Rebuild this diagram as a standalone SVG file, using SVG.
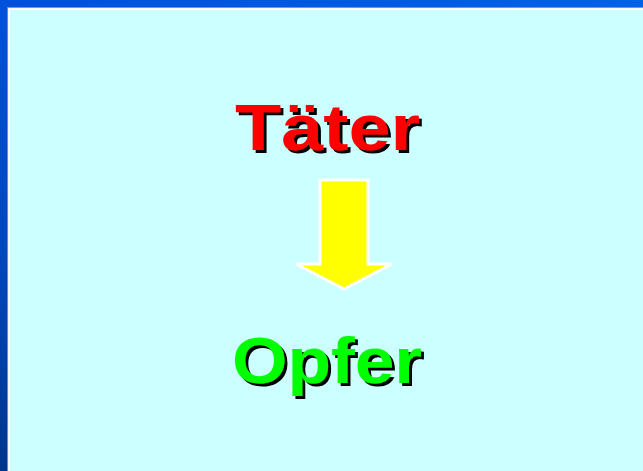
<svg xmlns="http://www.w3.org/2000/svg" width="643" height="471" viewBox="0 0 643 471">
  <defs>
    <linearGradient id="leftBlue" x1="0" y1="0" x2="0" y2="1">
      <stop offset="0" stop-color="#0052DC"/>
      <stop offset="0.6" stop-color="#0046B8"/>
      <stop offset="1" stop-color="#00358A"/>
    </linearGradient>
    <linearGradient id="topBlue" x1="0" y1="0" x2="1" y2="0">
      <stop offset="0" stop-color="#0050DC"/>
      <stop offset="1" stop-color="#0062E6"/>
    </linearGradient>
    <filter id="shadow" x="-10%" y="-20%" width="130%" height="150%">
      <feOffset in="SourceAlpha" dx="3" dy="3" result="off"/>
      <feFlood flood-color="#000000"/>
      <feComposite in2="off" operator="in" result="sh"/>
      <feMerge>
        <feMergeNode in="sh"/>
        <feMergeNode in="SourceGraphic"/>
      </feMerge>
    </filter>
  </defs>
  <style>
    .word { font-family: "Liberation Sans", Arial, sans-serif; font-weight: bold; font-size: 64px; filter: url(#shadow); }
    .arrow { fill: #FFFF00; stroke: #FFFFFF; stroke-width: 3; stroke-linejoin: miter; }
  </style>
  <g id="background">
    <rect x="0" y="0" width="643" height="471" fill="#CCFFFF"/>
    <rect x="0" y="0" width="643" height="7" fill="url(#topBlue)"/>
    <rect x="0" y="0" width="7" height="471" fill="url(#leftBlue)"/>
    <rect x="7" y="7" width="636" height="1.2" fill="#5C9CF0"/>
    <rect x="7" y="7" width="1.2" height="464" fill="#5C8CE0"/>
    <rect x="8.2" y="8.2" width="634.8" height="1.8" fill="#FFFFFF"/>
    <rect x="8.2" y="8.2" width="1.8" height="462.8" fill="#FFFFFF"/>
  </g>
  <g id="taeter">
    <text class="word" x="235" y="150" fill="#FF0000" textLength="185" lengthAdjust="spacingAndGlyphs">Täter</text>
  </g>
  <g id="connectors">
    <path class="arrow" d="M320,180 L368,180 L368,264 L392,264 L344,289 L296,264 L320,264 Z"/>
  </g>
  <g id="opfer">
    <text class="word" x="232" y="383" fill="#00FF00" textLength="190" lengthAdjust="spacingAndGlyphs">Opfer</text>
  </g>
</svg>
